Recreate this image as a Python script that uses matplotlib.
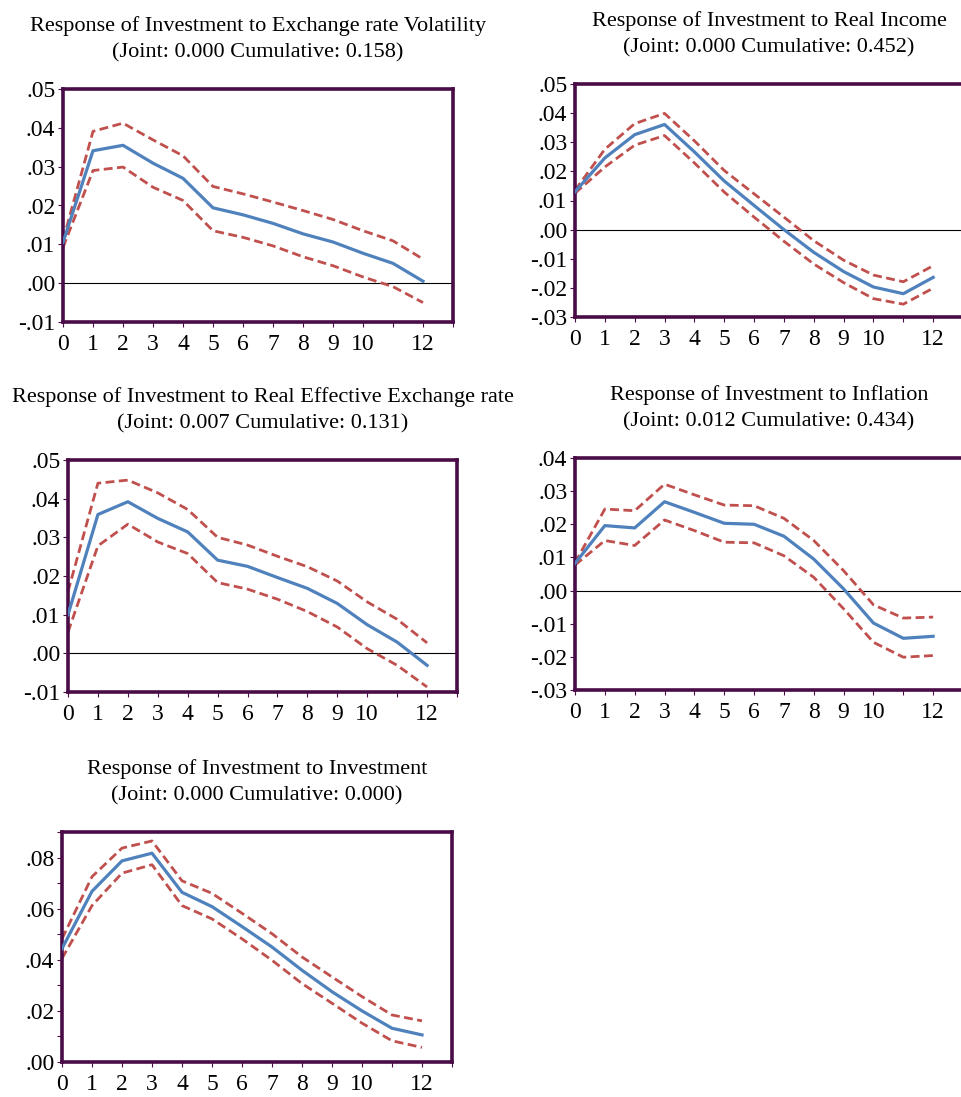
import matplotlib
matplotlib.use("Agg")
from matplotlib import pyplot as plt
from matplotlib.ticker import FuncFormatter, MultipleLocator
import numpy as np

plt.rcParams['font.family'] = ['Liberation Serif', 'DejaVu Serif']

periods = list(range(13))

# impulse responses: (response, upper band, lower band)
vol_resp = [0.0105, 0.0341, 0.0355, 0.0309, 0.0270, 0.0194, 0.0176, 0.0154, 0.0127, 0.0106, 0.0077, 0.0051, 0.0005]
vol_up = [0.0110, 0.0391, 0.0412, 0.0369, 0.0328, 0.0249, 0.0230, 0.0209, 0.0187, 0.0164, 0.0135, 0.0109, 0.0062]
vol_lo = [0.0092, 0.0290, 0.0299, 0.0247, 0.0213, 0.0135, 0.0118, 0.0096, 0.0068, 0.0045, 0.0016, -0.0009, -0.0050]

inc_resp = [0.0130, 0.0246, 0.0326, 0.0361, 0.0267, 0.0167, 0.0083, 0.0000, -0.0078, -0.0144, -0.0197, -0.0220, -0.0164]
inc_up = [0.0135, 0.0276, 0.0364, 0.0399, 0.0305, 0.0203, 0.0123, 0.0043, -0.0038, -0.0105, -0.0156, -0.0179, -0.0124]
inc_lo = [0.0125, 0.0215, 0.0290, 0.0323, 0.0229, 0.0129, 0.0043, -0.0040, -0.0118, -0.0182, -0.0237, -0.0256, -0.0201]

reer_resp = [0.0100, 0.0359, 0.0392, 0.0349, 0.0314, 0.0241, 0.0225, 0.0196, 0.0168, 0.0129, 0.0074, 0.0029, -0.0031]
reer_up = [0.0160, 0.0440, 0.0448, 0.0415, 0.0372, 0.0300, 0.0280, 0.0251, 0.0224, 0.0187, 0.0133, 0.0088, 0.0027]
reer_lo = [0.0055, 0.0278, 0.0334, 0.0288, 0.0258, 0.0183, 0.0166, 0.0140, 0.0108, 0.0068, 0.0012, -0.0031, -0.0087]

inf_resp = [0.0082, 0.0196, 0.0189, 0.0268, 0.0236, 0.0203, 0.0200, 0.0164, 0.0095, 0.0005, -0.0098, -0.0144, -0.0138]
inf_up = [0.0084, 0.0246, 0.0241, 0.0321, 0.0289, 0.0258, 0.0256, 0.0218, 0.0151, 0.0060, -0.0043, -0.0083, -0.0080]
inf_lo = [0.0077, 0.0151, 0.0136, 0.0213, 0.0181, 0.0146, 0.0144, 0.0105, 0.0040, -0.0055, -0.0156, -0.0201, -0.0196]

inv_resp = [0.0444, 0.0668, 0.0787, 0.0817, 0.0664, 0.0608, 0.0530, 0.0450, 0.0359, 0.0275, 0.0200, 0.0132, 0.0106]
inv_up = [0.0482, 0.0725, 0.0837, 0.0865, 0.0709, 0.0660, 0.0582, 0.0502, 0.0411, 0.0333, 0.0256, 0.0184, 0.0161]
inv_lo = [0.0405, 0.0612, 0.0739, 0.0772, 0.0612, 0.0560, 0.0482, 0.0398, 0.0307, 0.0230, 0.0152, 0.0083, 0.0057]

titles = [
    "Response of Investment to Exchange rate Volatility\n(Joint: 0.000 Cumulative: 0.158)",
    "Response of Investment to Real Income\n(Joint: 0.000 Cumulative: 0.452)",
    "Response of Investment to Real Effective Exchange rate\n(Joint: 0.007 Cumulative: 0.131)",
    "Response of Investment to Inflation\n(Joint: 0.012 Cumulative: 0.434)",
    "Response of Investment to Investment\n(Joint: 0.000 Cumulative: 0.000)",
]
series = [
    (vol_resp, vol_up, vol_lo),
    (inc_resp, inc_up, inc_lo),
    (reer_resp, reer_up, reer_lo),
    (inf_resp, inf_up, inf_lo),
    (inv_resp, inv_up, inv_lo),
]
ylims = [(-0.01, 0.05), (-0.03, 0.05), (-0.01, 0.05), (-0.03, 0.04), (0.0, 0.09)]
ysteps = [0.01, 0.01, 0.01, 0.01, 0.02]

W, H = 962, 1097
# axes boxes in pixels: left, top, right, bottom
boxes = [(63, 89, 453, 322), (575, 84, 963, 317), (68, 460, 457, 692),
         (575, 458, 963, 690), (62, 832, 452, 1062)]

frame = "#4a0c47"
blue = "#4f81bd"
red = "#c0504d"


def fmt_y(v, pos):
    s = f"{v:.2f}"
    return s.replace("0.", ".", 1)


def fmt_x(v, pos):
    i = int(round(v))
    return "" if i in (11, 13) else str(i)


fig = plt.figure(figsize=(W / 100, H / 100), dpi=100)

for k in range(5):
    l, t, r, b = boxes[k]
    ax = fig.add_axes([l / W, 1 - b / H, (r - l) / W, (b - t) / H])
    resp, up, lo = series[k]
    ax.axhline(0, color="black", lw=0.8, zorder=1)
    ax.plot(periods, up, color=red, lw=2, dashes=(3.2, 1.6), zorder=2)
    ax.plot(periods, lo, color=red, lw=2, dashes=(3.2, 1.6), zorder=2)
    ax.plot(periods, resp, color=blue, lw=2.3, zorder=3)

    ax.set_xlim(0, 13)
    ax.set_ylim(*ylims[k])
    ax.xaxis.set_major_locator(MultipleLocator(1))
    ax.xaxis.set_major_formatter(FuncFormatter(fmt_x))
    ax.yaxis.set_major_locator(MultipleLocator(ysteps[k]))
    ax.yaxis.set_major_formatter(FuncFormatter(fmt_y))
    if k == 4:
        ax.yaxis.set_minor_locator(MultipleLocator(0.01))
    ax.tick_params(which="both", direction="out", length=3.5, width=0.8,
                   color=frame, labelsize=17, labelcolor="black")
    ax.tick_params(axis="x", pad=5)
    ax.tick_params(axis="y", pad=2)
    for sp in ax.spines.values():
        sp.set_color(frame)
        sp.set_linewidth(2.6)
    ax.set_title(titles[k], fontsize=16, linespacing=1.5, pad=23)

fig.savefig("out.png", dpi=100)
